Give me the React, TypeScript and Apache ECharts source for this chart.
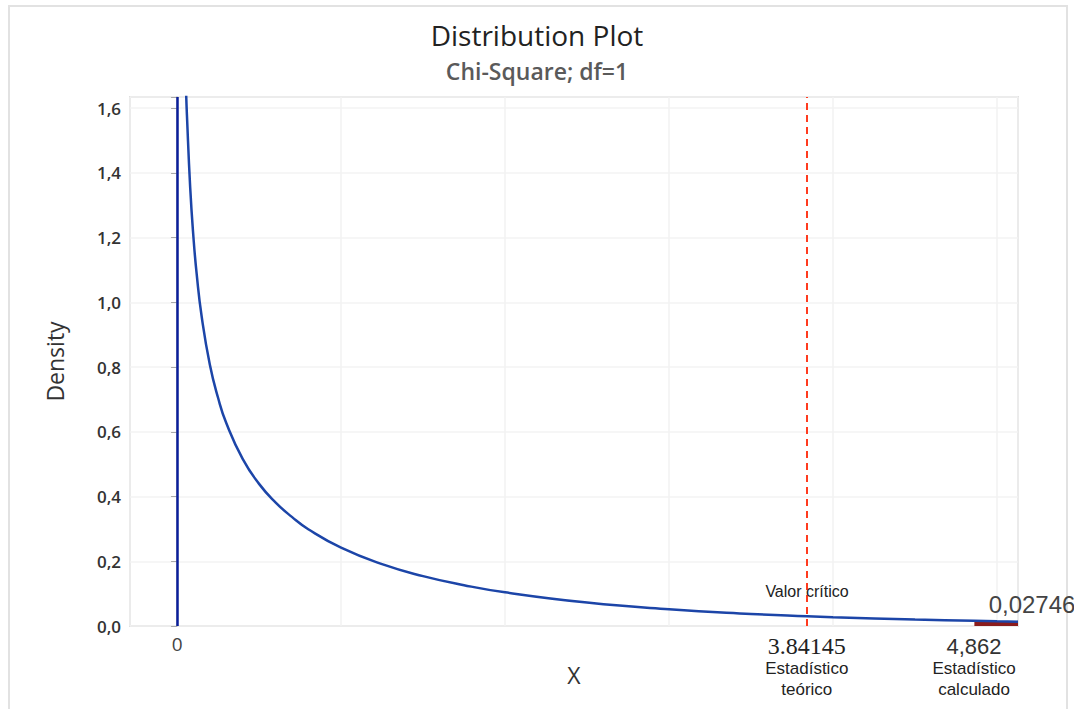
import React, { useEffect, useRef } from "react";
import * as echarts from "echarts";

// Chi-square (df=1) density
const curveX: number[] = [0.055, 0.06, 0.08, 0.1, 0.12, 0.15, 0.2, 0.25, 0.3, 0.4, 0.5, 0.6, 0.7, 0.8, 1.0, 1.25, 1.5, 1.75, 2.0, 2.5, 3.0, 3.5, 3.84145, 4.0, 4.5, 4.862, 5.0, 5.128];
const curveY: number[] = [1.65, 1.58, 1.355, 1.2, 1.085, 0.956, 0.807, 0.705, 0.627, 0.516, 0.439, 0.382, 0.337, 0.299, 0.242, 0.191, 0.154, 0.126, 0.104, 0.0723, 0.0514, 0.0371, 0.0298, 0.027, 0.0198, 0.0162, 0.0146, 0.0135];

const criticalValue = 3.84145;
const calculatedValue = 4.862;
const calculatedLabel = "4,862";
const tailArea = "0,02746";
const xMin = -0.287;
const xMax = 5.128;
const yMax = 1.634;

const titleText = "Distribution Plot";
const subtitleText = "Chi-Square; df=1";

export default function App() {
  const ref = useRef<HTMLDivElement>(null);
  useEffect(() => {
    if (!ref.current) return;
    const chart = echarts.init(ref.current, undefined, { renderer: "svg" });
    const curve = curveX.map((x, i) => [x, curveY[i]]);
    const tail = curve.filter((p) => p[0] >= calculatedValue);
    const sans = "'Open Sans', 'Noto Sans', sans-serif";
    const arial = "'Liberation Sans', Arial, sans-serif";
    const serif = "'Liberation Serif', 'DejaVu Serif', serif";
    chart.setOption({
      animation: false,
      backgroundColor: "#ffffff",
      title: [
        {
          text: titleText,
          left: "center",
          top: 16,
          textStyle: { fontFamily: sans, fontSize: 28, lineHeight: 28, fontWeight: "normal", color: "#222222" },
        },
        {
          text: subtitleText,
          left: "center",
          top: 54,
          textStyle: { fontFamily: sans, fontSize: 23, lineHeight: 23, fontWeight: 600, color: "#5a5a5a" },
        },
      ],
      graphic: [
        {
          type: "rect",
          shape: { x: 9, y: 6, width: 1058, height: 720 },
          style: { fill: "none", stroke: "#e2e2e2", lineWidth: 2 },
          silent: true,
          z: -1,
        },
      ],
      grid: {
        left: 130,
        right: 56,
        top: 97,
        bottom: 83,
        show: true,
        borderColor: "#c8c8c8",
        borderWidth: 1.5,
      },
      xAxis: {
        type: "value",
        min: xMin,
        max: xMax,
        name: "X",
        nameLocation: "middle",
        nameGap: 37,
        nameTextStyle: { fontFamily: sans, fontSize: 23, color: "#333333" },
        axisLine: { show: false },
        axisTick: { show: false },
        axisLabel: { show: false },
        splitLine: { show: true, lineStyle: { color: "#f2f2f2", width: 1.5 } },
      },
      yAxis: {
        type: "value",
        min: 0,
        max: yMax,
        interval: 0.2,
        name: "Density",
        nameLocation: "middle",
        nameGap: 64,
        nameTextStyle: { fontFamily: sans, fontSize: 23, color: "#333333" },
        axisLine: { show: true, lineStyle: { color: "#c0c0c0", width: 1.5 } },
        axisTick: { show: true, length: 6, lineStyle: { color: "#a8a8a8" } },
        axisLabel: {
          fontFamily: sans,
          fontSize: 17,
          fontWeight: 600,
          color: "#333333",
          margin: 9,
          formatter: (v: number) => (v > 1.61 ? "" : v.toFixed(1).replace(".", ",")),
        },
        splitLine: { show: true, lineStyle: { color: "#f3f3f3", width: 1.5 } },
      },
      series: [
        {
          type: "line",
          data: tail,
          showSymbol: false,
          smooth: true,
          lineStyle: { width: 0 },
          areaStyle: { color: "#8b1c1c", opacity: 1 },
          z: 2,
        },
        {
          type: "line",
          data: curve,
          showSymbol: false,
          smooth: true,
          clip: true,
          lineStyle: { color: "#1c45a8", width: 2.5 },
          z: 3,
          markLine: {
            symbol: "none",
            silent: true,
            data: [
              {
                xAxis: 0,
                lineStyle: { color: "#0a1e9a", type: "solid", width: 2.5 },
                label: {
                  show: true,
                  position: "start",
                  formatter: "0",
                  fontFamily: sans,
                  fontSize: 19,
                  color: "#444444",
                  distance: 8,
                },
              },
              {
                xAxis: criticalValue,
                lineStyle: { color: "#ff3b1f", type: [7, 5], width: 2 },
                label: {
                  show: true,
                  position: "start",
                  distance: 8,
                  formatter: "{a|" + String(criticalValue) + "}\n{b|Estadístico}\n{b|teórico}",
                  rich: {
                    a: { fontFamily: serif, fontSize: 24, color: "#222222", lineHeight: 24, align: "center" },
                    b: { fontFamily: arial, fontSize: 17, color: "#222222", lineHeight: 21, align: "center" },
                  },
                },
              },
              {
                xAxis: calculatedValue,
                lineStyle: { color: "rgba(0,0,0,0)", width: 0 },
                label: {
                  show: true,
                  position: "start",
                  distance: 8,
                  formatter: "{a|" + calculatedLabel + "}\n{b|Estadístico}\n{b|calculado}",
                  rich: {
                    a: { fontFamily: arial, fontSize: 22, color: "#333333", lineHeight: 24, align: "center" },
                    b: { fontFamily: arial, fontSize: 17, color: "#222222", lineHeight: 21, align: "center" },
                  },
                },
              },
            ],
          },
          markPoint: {
            symbol: "circle",
            symbolSize: 0,
            silent: true,
            data: [
              {
                coord: [criticalValue, 0.108],
                label: { show: true, position: "inside", formatter: "Valor crítico", fontFamily: arial, fontSize: 16, color: "#222222", offset: [0, 0] },
              },
              {
                coord: [xMax, 0.067],
                label: { show: true, position: "inside", formatter: tailArea, fontFamily: arial, fontSize: 24, color: "#444444", offset: [14, 0] },
              },
            ],
          },
        },
      ],
    });
    return () => chart.dispose();
  }, []);
  return (
    <div
      ref={ref}
      style={{ position: "absolute", left: 0, top: 0, width: 1074, height: 709 }}
    />
  );
}
